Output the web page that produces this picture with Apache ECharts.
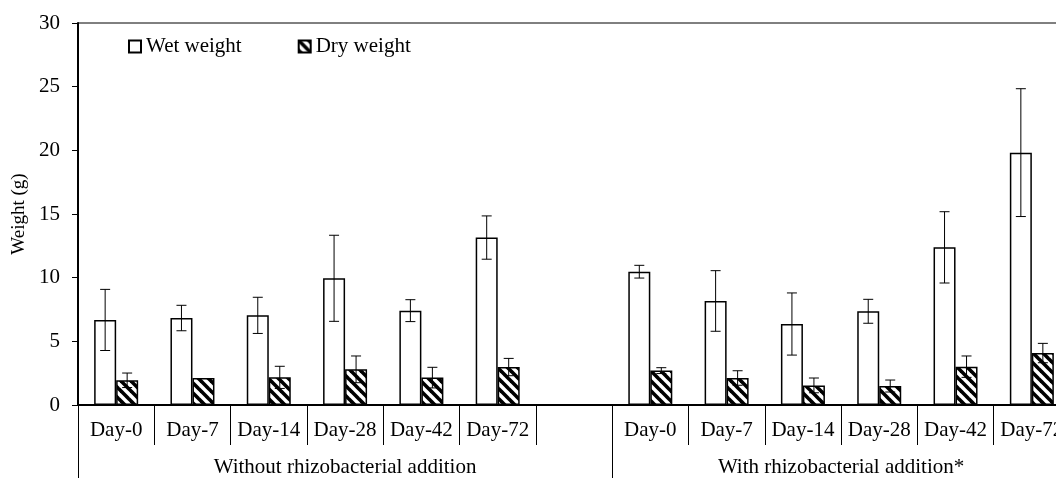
<!DOCTYPE html>
<html>
<head>
<meta charset="utf-8">
<script src="https://cdn.jsdelivr.net/npm/echarts@6/dist/echarts.min.js"></script>
<style>html,body{margin:0;padding:0;background:#fff;overflow:hidden;width:1056px;height:478px;}#c{width:1080px;height:478px;}</style>
</head>
<body>
<div id="c"></div>
<script>
// ---- data ----
const days = ['Day-0', 'Day-7', 'Day-14', 'Day-28', 'Day-42', 'Day-72'];
const groupNames = ['Without rhizobacterial addition', 'With rhizobacterial addition*'];
const seriesNames = ['Wet weight', 'Dry weight'];
const wetWithout    = [6.68, 6.83, 7.04, 9.95, 7.41, 13.15];
const wetWithoutErr = [2.40, 1.00, 1.42, 3.38, 0.86, 1.70];
const dryWithout    = [1.94, 2.12, 2.17, 2.80, 2.15, 2.98];
const dryWithoutErr = [0.57, 0.00, 0.87, 1.05, 0.81, 0.68];
const wetWith       = [10.47, 8.17, 6.36, 7.36, 12.38, 19.82];
const wetWithErr    = [0.50, 2.38, 2.44, 0.94, 2.80, 5.02];
const dryWith       = [2.70, 2.12, 1.54, 1.49, 3.01, 4.08];
const dryWithErr    = [0.23, 0.57, 0.58, 0.47, 0.84, 0.76];
const yTicks = [0, 5, 10, 15, 20, 25, 30];

// ---- build ----
const categories = days.concat(['']).concat(days);
const wetVals = wetWithout.concat([null]).concat(wetWith);
const wetErrs = wetWithoutErr.concat([null]).concat(wetWithErr);
const dryVals = dryWithout.concat([null]).concat(dryWith);
const dryErrs = dryWithoutErr.concat([null]).concat(dryWithErr);
const leftSpan = days.length + 1;
const groupCenters = [leftSpan / 2, leftSpan + days.length / 2];

const FONT = 'Liberation Serif';
const FS = 21;
const BAR_W = 22;

// hatch pattern
const tile = document.createElement('canvas');
tile.width = 10; tile.height = 10;
const g = tile.getContext('2d');
g.fillStyle = '#fff'; g.fillRect(0, 0, 10, 10);
g.strokeStyle = '#000'; g.lineWidth = 3.6;
for (let k = -2; k <= 2; k++) {
  g.beginPath(); g.moveTo(-10, -10 + k * 10); g.lineTo(20, 20 + k * 10); g.stroke();
}

function errData(vals, errs) {
  const out = [];
  vals.forEach((v, i) => { if (v != null && errs[i]) out.push([i, v, errs[i]]); });
  return out;
}

function errSeries(vals, errs, offset) {
  return {
    type: 'custom',
    z: 5,
    silent: true,
    data: errData(vals, errs),
    renderItem: function (params, api) {
      const i = api.value(0), v = api.value(1), e = api.value(2);
      const top = api.coord([i, v + e]);
      const bot = api.coord([i, v - e]);
      const x = top[0] + offset;
      const hw = 5;
      const st = { stroke: '#000', lineWidth: 1 };
      return {
        type: 'group',
        children: [
          { type: 'line', shape: { x1: x, y1: top[1], x2: x, y2: bot[1] }, style: st },
          { type: 'line', shape: { x1: x - hw, y1: top[1], x2: x + hw, y2: top[1] }, style: st },
          { type: 'line', shape: { x1: x - hw, y1: bot[1], x2: x + hw, y2: bot[1] }, style: st }
        ]
      };
    }
  };
}

const chart = echarts.init(document.getElementById('c'), null, { renderer: 'canvas' });
chart.setOption({
  animation: false,
  backgroundColor: '#fff',
  textStyle: { fontFamily: FONT, color: '#000' },
  legend: {
    data: seriesNames,
    left: 123, top: 31,
    icon: 'rect', itemWidth: 12, itemHeight: 12, itemGap: 56,
    textStyle: { fontFamily: FONT, fontSize: FS, color: '#000' }
  },
  grid: {
    left: 78, top: 23, width: 992, height: 382,
    show: true, borderColor: '#000', borderWidth: 1, backgroundColor: 'transparent'
  },
  xAxis: [{
    type: 'category',
    data: categories,
    axisLine: { lineStyle: { color: '#000', width: 2 } },
    axisTick: { show: true, interval: 0, length: 40, lineStyle: { color: '#000', width: 1 } },
    axisLabel: { interval: 0, margin: 15, fontFamily: FONT, fontSize: FS, color: '#000' }
  }, {
    type: 'value',
    position: 'bottom',
    min: 0, max: categories.length,
    axisLine: { show: false },
    splitLine: { show: false },
    axisTick: { show: true, customValues: [0, leftSpan], length: 73, lineStyle: { color: '#000', width: 1 } },
    axisLabel: {
      customValues: groupCenters,
      margin: 52,
      fontFamily: FONT, fontSize: FS, color: '#000',
      formatter: function (v) { return Math.abs(v - groupCenters[0]) < 1e-6 ? groupNames[0] : groupNames[1]; }
    }
  }],
  yAxis: {
    type: 'value',
    min: yTicks[0], max: yTicks[yTicks.length - 1], interval: 5,
    name: 'Weight (g)',
    nameLocation: 'middle',
    nameGap: 48,
    nameTextStyle: { fontFamily: FONT, fontSize: 19, color: '#000' },
    axisLine: { show: true, lineStyle: { color: '#000', width: 2 } },
    axisTick: { show: true, length: 6, lineStyle: { color: '#000', width: 1 } },
    axisLabel: { margin: 18, fontFamily: FONT, fontSize: FS, color: '#000' },
    splitLine: { show: false }
  },
  series: [
    {
      name: seriesNames[0], type: 'bar', barWidth: BAR_W, barGap: '0%',
      data: wetVals,
      itemStyle: { color: '#fff', borderColor: '#000', borderWidth: 1.5 }
    },
    {
      name: seriesNames[1], type: 'bar', barWidth: BAR_W, barGap: '0%',
      data: dryVals,
      itemStyle: { color: { image: tile, repeat: 'repeat' }, borderColor: '#000', borderWidth: 1.5 }
    },
    errSeries(wetVals, wetErrs, -BAR_W / 2),
    errSeries(dryVals, dryErrs, BAR_W / 2)
  ]
});
</script>
</body>
</html>
